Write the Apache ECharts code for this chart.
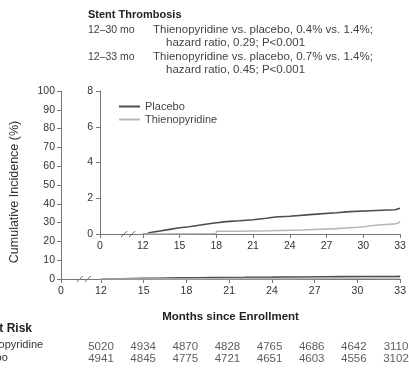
<!DOCTYPE html>
<html>
<head>
<meta charset="utf-8">
<script src="https://cdn.jsdelivr.net/npm/echarts@6/dist/echarts.min.js"></script>
<style>
  html, body { margin: 0; padding: 0; background: #fff; }
  #chart { width: 409px; height: 369px; }
</style>
</head>
<body>
<div id="chart"></div>
<script>
// Kaplan-Meier style curves (months since enrollment, cumulative %)
const placeboMonths = [12.0, 12.3, 12.6, 13.4, 14.2, 15.0, 15.8, 16.7, 17.7, 18.8, 19.9, 21.0, 22.1, 22.8, 24.0, 25.9, 27.8, 28.9, 30.6, 32.6, 33.0];
const placeboValues = [0.0, 0.08, 0.17, 0.26, 0.35, 0.41, 0.5, 0.6, 0.69, 0.74, 0.8, 0.88, 0.95, 0.99, 1.1, 1.19, 1.25, 1.3, 1.36, 1.44, 1.46];
const thienoMonths = [12.0, 12.4, 18.0, 20.0, 22.4, 25.1, 27.8, 29.6, 30.2, 31.2, 32.4, 32.9, 33.0];
const thienoValues = [0.0, 0.03, 0.15, 0.18, 0.22, 0.3, 0.38, 0.42, 0.5, 0.55, 0.62, 0.72, 0.72];

const monthTicks = [12, 15, 18, 21, 24, 27, 30, 33];
const atRiskThieno = [5020, 4934, 4870, 4828, 4765, 4686, 4642, 3110];
const atRiskPlacebo = [4941, 4845, 4775, 4721, 4651, 4603, 4556, 3102];

const outerZero = 9.2;   // where "0" sits on the broken outer axis
const innerZero = 8.5;   // same for the inset axis
const breakAt = 10.8;

const FONT = 'Liberation Sans';
const TXT = '#333';
const AX = '#777';

const pairs = (xs, ys) => xs.map((x, i) => [x, ys[i]]);

const chart = echarts.init(document.getElementById('chart'));

function xAxisFor(grid, zero) {
  return {
    gridIndex: grid, type: 'value', min: zero, max: 33,
    axisLine: { lineStyle: { color: AX, width: 1 } },
    axisTick: { length: 4, lineStyle: { color: AX }, customValues: [zero].concat(monthTicks) },
    axisLabel: {
      color: TXT, fontFamily: FONT, fontSize: 10.5, margin: 7,
      customValues: [zero].concat(monthTicks),
      formatter: v => (v < 11 ? '0' : String(v))
    },
    splitLine: { show: false }
  };
}

function curve(name, data, color, xi, yi) {
  return {
    name: name, type: 'line', step: 'end', data: data,
    xAxisIndex: xi, yAxisIndex: yi, symbol: 'none',
    lineStyle: { color: color, width: 1.6 }, itemStyle: { color: color },
    animation: false
  };
}

function riskRow(values, yv) {
  return {
    type: 'scatter', xAxisIndex: 2, yAxisIndex: 2, symbolSize: 0,
    data: monthTicks.map((m, i) => ({ value: [m, yv], label: { formatter: String(values[i]) } })),
    label: { show: true, position: 'inside', color: TXT, fontFamily: FONT, fontSize: 11.5 },
    silent: true, animation: false
  };
}

const option = {
  animation: false,
  grid: [
    { left: 61, right: 7, top: 91, bottom: 90 },
    { left: 100, right: 9, top: 91, bottom: 135 },
    { left: 101, right: 13, top: 347, bottom: 10 }
  ],
  legend: {
    left: 114, top: 96, orient: 'vertical', icon: 'rect',
    itemWidth: 21, itemHeight: 2, itemGap: 2,
    textStyle: { color: '#444', fontFamily: FONT, fontSize: 11 },
    data: ['Placebo', 'Thienopyridine']
  },
  xAxis: [
    Object.assign(xAxisFor(0, outerZero), {
      name: 'Months since Enrollment', nameLocation: 'middle', nameGap: 32,
      nameTextStyle: { color: '#222', fontFamily: FONT, fontSize: 11.5, fontWeight: 'bold' }
    }),
    xAxisFor(1, innerZero),
    { gridIndex: 2, type: 'value', min: 12, max: 33, show: false }
  ],
  yAxis: [
    {
      gridIndex: 0, type: 'value', min: 0, max: 100, interval: 10,
      axisLine: { show: true, lineStyle: { color: AX } },
      axisTick: { show: true, length: 4, lineStyle: { color: AX } },
      axisLabel: { color: TXT, fontFamily: FONT, fontSize: 10.5, margin: 6 },
      splitLine: { show: false }
    },
    {
      gridIndex: 1, type: 'value', min: 0, max: 8, interval: 2,
      axisLine: { show: true, lineStyle: { color: AX } },
      axisTick: { show: true, length: 4, lineStyle: { color: AX } },
      axisLabel: { color: TXT, fontFamily: FONT, fontSize: 10.5, margin: 7 },
      splitLine: { show: false }
    },
    { gridIndex: 2, type: 'value', min: 0, max: 1, show: false }
  ],
  series: [
    curve('Placebo', pairs(placeboMonths, placeboValues), '#4d4d4d', 0, 0),
    curve('Thienopyridine', pairs(thienoMonths, thienoValues), '#b8b8b8', 0, 0),
    curve('Placebo', pairs(placeboMonths, placeboValues), '#4d4d4d', 1, 1),
    curve('Thienopyridine', pairs(thienoMonths, thienoValues), '#b8b8b8', 1, 1),
    riskRow(atRiskThieno, 1),
    riskRow(atRiskPlacebo, 0)
  ]
};

chart.setOption(option);

// headings, at-risk labels and axis break marks
function breakMark(xi, yi) {
  const p = chart.convertToPixel({ xAxisIndex: xi, yAxisIndex: yi }, [breakAt, 0]);
  const x = p[0], y = p[1];
  return {
    type: 'group', x: x, y: y, z: 100,
    children: [
      { type: 'rect', shape: { x: -4, y: -2, width: 8, height: 4 }, style: { fill: '#fff' } },
      { type: 'line', shape: { x1: -7, y1: 3, x2: -1, y2: -3 }, style: { stroke: '#666', lineWidth: 1 } },
      { type: 'line', shape: { x1: 1, y1: 3, x2: 7, y2: -3 }, style: { stroke: '#666', lineWidth: 1 } }
    ]
  };
}

const head = (x, y, text, opts) => ({
  type: 'text', x: x, y: y,
  style: Object.assign({ text: text, fill: '#444', font: '11.5px ' + FONT, textVerticalAlign: 'middle' }, opts || {})
});

chart.setOption({
  graphic: [
    head(88, 15, 'Stent Thrombosis', { fill: '#222', font: 'bold 11px ' + FONT }),
    head(88, 30, '12\u201330 mo', { font: '10.5px ' + FONT }),
    head(153, 30, 'Thienopyridine vs. placebo, 0.4% vs. 1.4%;'),
    head(166, 43, 'hazard ratio, 0.29; P<0.001'),
    head(88, 57, '12\u201333 mo', { font: '10.5px ' + FONT }),
    head(153, 57, 'Thienopyridine vs. placebo, 0.7% vs. 1.4%;'),
    head(166, 70, 'hazard ratio, 0.45; P<0.001'),
    {
      type: 'text', x: 15, y: 192, rotation: Math.PI / 2,
      style: { text: 'Cumulative Incidence (%)', fill: TXT, font: '12.5px ' + FONT, textAlign: 'center', textVerticalAlign: 'middle' }
    },
    head(32, 329, 'No. at Risk', { fill: '#222', font: 'bold 12px ' + FONT, textAlign: 'right' }),
    head(-29, 345, 'Thienopyridine', { fill: TXT, font: '11px ' + FONT }),
    head(-32, 358, 'Placebo', { fill: TXT, font: '11px ' + FONT }),
    breakMark(0, 0),
    breakMark(1, 1)
  ]
});
</script>
</body>
</html>
